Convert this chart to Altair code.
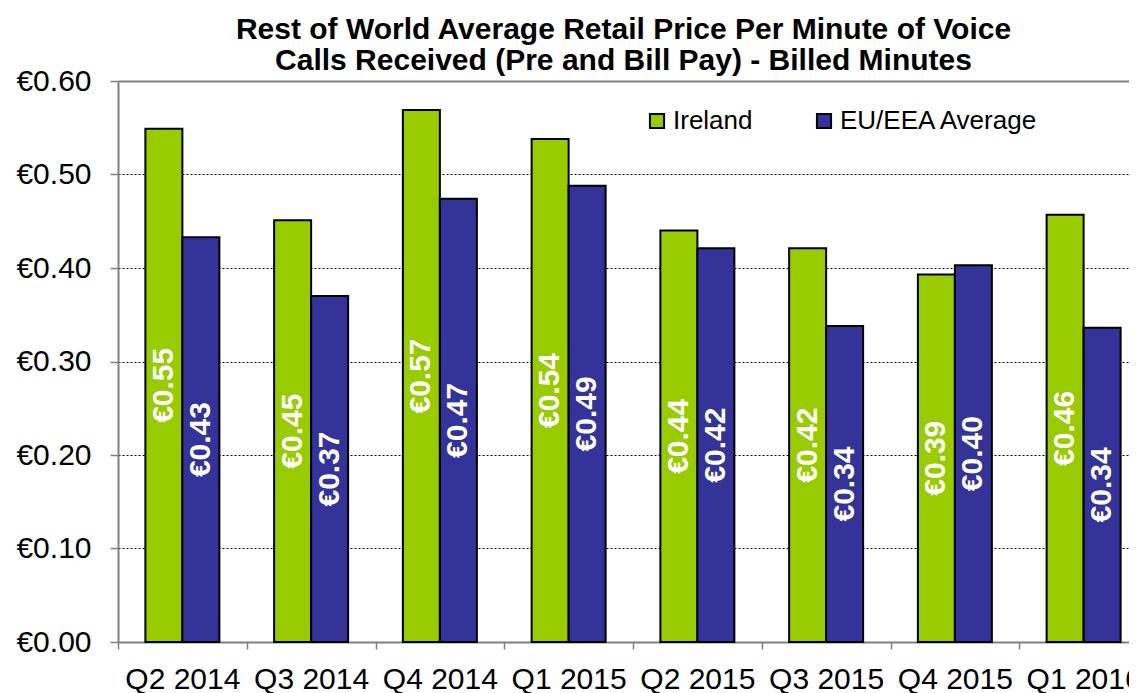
import altair as alt
import pandas as pd

quarters = ["Q2 2014", "Q3 2014", "Q4 2014", "Q1 2015", "Q2 2015", "Q3 2015", "Q4 2015", "Q1 2016"]
ireland = [0.549, 0.451, 0.569, 0.538, 0.440, 0.421, 0.393, 0.457]
eu_avg = [0.433, 0.370, 0.474, 0.488, 0.421, 0.338, 0.403, 0.336]
series = ["Ireland", "EU/EEA Average"]
colors = ["#99CC00", "#333399"]

rows = []
for q, a, b in zip(quarters, ireland, eu_avg):
    rows.append({"quarter": q, "series": series[0], "value": a})
    rows.append({"quarter": q, "series": series[1], "value": b})
df = pd.DataFrame(rows)

FONT = "Liberation Sans"
GRAY = "#808080"
top_test = "datum.value >= 0.6"

x = alt.X("quarter:N", sort=quarters, title=None,
          scale=alt.Scale(paddingInner=0, paddingOuter=0, range=[0, 1030]),
          axis=alt.Axis(labelAngle=0, labelFontSize=30, labelColor="black", labelFont=FONT,
                        labelPadding=15, tickBand="extent", tickColor=GRAY, tickSize=7,
                        tickWidth=1.5, domainColor=GRAY, domainWidth=2, grid=False))
xo = alt.XOffset("series:N", sort=series,
                 scale=alt.Scale(paddingInner=0, paddingOuter=0.74))

base = alt.Chart(df)

bars = base.mark_bar(stroke="black", strokeWidth=2).encode(
    x=x,
    xOffset=xo,
    y=alt.Y("value:Q", title=None,
            scale=alt.Scale(domain=[0, 0.6], nice=False),
            axis=alt.Axis(values=[0, 0.1, 0.2, 0.3, 0.4, 0.5, 0.6],
                          labelExpr="'€' + format(datum.value, '.2f')",
                          labelFontSize=30, labelFont=FONT, labelColor="black",
                          labelPadding=19, tickSize=8, tickColor=GRAY, tickWidth=1.5,
                          domainColor=GRAY, domainWidth=2,
                          grid=True,
                          gridColor={"condition": {"test": top_test, "value": GRAY}, "value": "black"},
                          gridDash={"condition": {"test": top_test, "value": [1, 0]}, "value": [2, 2]},
                          gridWidth={"condition": {"test": top_test, "value": 2}, "value": 1},
                          gridOpacity={"condition": {"test": "datum.value <= 0", "value": 0}, "value": 1})),
    color=alt.Color("series:N", sort=series,
                    scale=alt.Scale(domain=series, range=colors),
                    legend=alt.Legend(title=None, orient="none", legendX=526, legendY=27,
                                      direction="horizontal", symbolType="square",
                                      symbolSize=200, symbolStrokeColor="black",
                                      symbolStrokeWidth=2, symbolOpacity=1,
                                      labelFontSize=26, labelFont=FONT, labelColor="black",
                                      labelLimit=400, labelOffset=3, columnPadding=58, padding=0)),
)

labels = base.transform_calculate(
    mid="datum.value / 2",
    lab="'€' + format(datum.value, '.2f')",
).mark_text(angle=270, color="white", fontWeight="bold", fontSize=30, font=FONT,
            align="center", baseline="middle").encode(
    x=alt.X("quarter:N", sort=quarters),
    xOffset=xo,
    y=alt.Y("mid:Q"),
    text="lab:N",
)

chart = alt.layer(bars, labels).properties(
    width=1011,
    height=561,
    autosize=alt.AutoSizeParams(type="none"),
    padding={"left": 110, "top": 73, "right": 0, "bottom": 56},
    title=alt.TitleParams(
        text=["Rest of World Average Retail Price Per Minute of Voice",
              "Calls Received (Pre and Bill Pay) - Billed Minutes"],
        fontSize=30, font=FONT, fontWeight="bold", color="black",
        lineHeight=31, anchor="middle", offset=-10,
    ),
).configure_view(stroke=None).configure(background="white")

chart.save("out.html", embed_options={"renderer": "svg", "actions": False})
